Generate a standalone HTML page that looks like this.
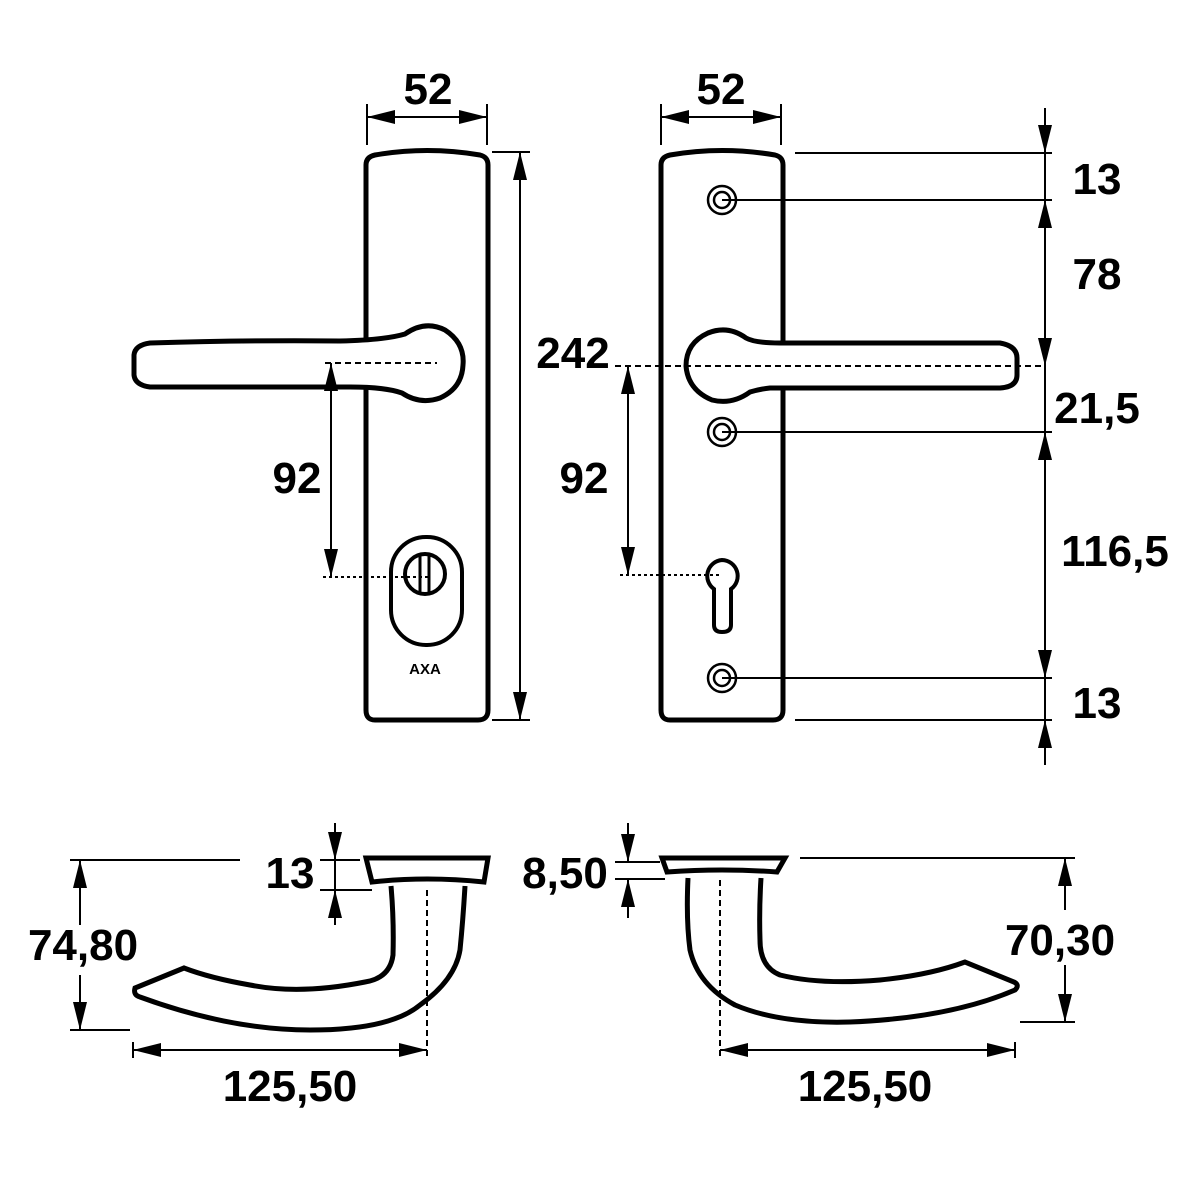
<!DOCTYPE html>
<html><head><meta charset="utf-8"><style>
html,body{margin:0;padding:0;background:#fff}
svg{display:block}
text{font-family:"Liberation Sans",Arial,sans-serif;font-weight:bold;font-size:44px;fill:#000}
</style></head><body>
<svg width="1181" height="1181" viewBox="0 0 1181 1181" xmlns="http://www.w3.org/2000/svg">
<defs>
<marker id="a" viewBox="0 0 28 14" refX="28" refY="7" markerWidth="28" markerHeight="14" markerUnits="userSpaceOnUse" orient="auto-start-reverse">
<path d="M0,0 L28,7 L0,14 Z" fill="#000"/></marker>
</defs>
<g fill="none" stroke="#000">
<!-- LEFT PLATE -->
<path d="M375,155 Q427,146 480,155 Q488,157 488,165 L488,710 Q488,720 478,720 L375,720 Q366,720 366,710 L366,165 Q366,157 375,155 Z" stroke-width="5" fill="#fff"/>
<!-- left handle -->
<path d="M150,343 Q250,340 340,341 Q385,340 405,334 Q425,320 445,330 Q465,343 463,365 Q462,388 440,398 Q420,405 402,393 Q385,387 350,387 L150,387 Q135,385 134,375 L134,355 Q135,345 150,343 Z" stroke-width="5" fill="#fff"/>
<line x1="325" y1="363" x2="437" y2="363" stroke-width="2" stroke-dasharray="6,4"/>
<line x1="331" y1="363" x2="331" y2="577" stroke-width="2" marker-start="url(#a)" marker-end="url(#a)"/>
<line x1="323" y1="577" x2="428" y2="577" stroke-width="2" stroke-dasharray="3,3"/>
<rect x="391" y="537" width="71" height="108" rx="35" stroke-width="4"/>
<circle cx="425" cy="574" r="20" stroke-width="4"/>
<line x1="420" y1="553" x2="420" y2="595" stroke-width="3"/>
<line x1="429" y1="553" x2="429" y2="595" stroke-width="3"/>
<!-- 242 -->
<line x1="492" y1="152" x2="530" y2="152" stroke-width="2"/>
<line x1="492" y1="720" x2="530" y2="720" stroke-width="2"/>
<line x1="520" y1="152" x2="520" y2="720" stroke-width="2" marker-start="url(#a)" marker-end="url(#a)"/>
<!-- 52 left -->
<line x1="367" y1="104" x2="367" y2="145" stroke-width="2"/>
<line x1="487" y1="104" x2="487" y2="145" stroke-width="2"/>
<line x1="367" y1="117" x2="487" y2="117" stroke-width="2" marker-start="url(#a)" marker-end="url(#a)"/>
<!-- 52 right -->
<line x1="661" y1="104" x2="661" y2="145" stroke-width="2"/>
<line x1="781" y1="104" x2="781" y2="145" stroke-width="2"/>
<line x1="661" y1="117" x2="781" y2="117" stroke-width="2" marker-start="url(#a)" marker-end="url(#a)"/>
<!-- RIGHT PLATE -->
<path d="M670,155 Q722,146 775,155 Q783,157 783,165 L783,710 Q783,720 773,720 L670,720 Q661,720 661,710 L661,165 Q661,157 670,155 Z" stroke-width="5" fill="#fff"/>
<g stroke-width="2.5">
<circle cx="722" cy="200" r="14"/><circle cx="722" cy="200" r="8"/>
<circle cx="722" cy="432" r="14"/><circle cx="722" cy="432" r="8"/>
<circle cx="722" cy="678" r="14"/><circle cx="722" cy="678" r="8"/>
</g>
<path d="M722,560 A16,16 0 0 1 731,589 L731,625 Q731,632 722,632 Q714,632 714,625 L714,589 A16,16 0 0 1 722,560 Z" stroke-width="4"/>
<path d="M1000,343 Q1017,346 1017,358 L1017,375 Q1017,387 1000,388 L770,388 Q760,389 750,392 Q732,405 712,400 Q688,390 686,366 Q686,343 708,333 Q728,325 746,338 Q755,343 780,343 Z" stroke-width="5" fill="#fff"/>
<line x1="615" y1="366" x2="1045" y2="366" stroke-width="2" stroke-dasharray="6,4"/>
<line x1="628" y1="366" x2="628" y2="575" stroke-width="2" marker-start="url(#a)" marker-end="url(#a)"/>
<line x1="620" y1="575" x2="720" y2="575" stroke-width="2" stroke-dasharray="3,3"/>
<!-- right dims -->
<g stroke-width="2">
<line x1="795" y1="153" x2="1052" y2="153"/>
<line x1="722" y1="200" x2="1052" y2="200"/>
<line x1="722" y1="432" x2="1052" y2="432"/>
<line x1="722" y1="678" x2="1052" y2="678"/>
<line x1="795" y1="720" x2="1052" y2="720"/>
<line x1="1045" y1="108" x2="1045" y2="153" marker-end="url(#a)"/>
<line x1="1045" y1="153" x2="1045" y2="200"/>
<line x1="1045" y1="200" x2="1045" y2="366" marker-start="url(#a)" marker-end="url(#a)"/>
<line x1="1045" y1="366" x2="1045" y2="432"/>
<line x1="1045" y1="432" x2="1045" y2="678" marker-start="url(#a)" marker-end="url(#a)"/>
<line x1="1045" y1="678" x2="1045" y2="720"/>
<line x1="1045" y1="765" x2="1045" y2="720" marker-end="url(#a)"/>
</g>
<!-- BOTTOM LEFT -->
<path d="M366,858 L488,858 L484,882 Q427,876 372,882 Z" stroke-width="5" fill="#fff"/>
<path d="M391,886 Q394,920 393,955 Q390,978 365,982 Q300,995 250,985 Q210,978 184,968 L135,988 Q133,995 140,997 Q230,1030 310,1030 Q390,1030 420,1005 Q455,980 460,950 Q463,920 465,886" stroke-width="5" fill="#fff"/>
<g stroke-width="2">
<line x1="70" y1="860" x2="240" y2="860"/>
<line x1="70" y1="1030" x2="130" y2="1030"/>
<line x1="80" y1="860" x2="80" y2="925" marker-start="url(#a)"/>
<line x1="80" y1="975" x2="80" y2="1030" marker-end="url(#a)"/>
<line x1="320" y1="860" x2="360" y2="860"/>
<line x1="320" y1="890" x2="372" y2="890"/>
<line x1="335" y1="823" x2="335" y2="860" marker-end="url(#a)"/>
<line x1="335" y1="925" x2="335" y2="890" marker-end="url(#a)"/>
<line x1="335" y1="860" x2="335" y2="890"/>
<line x1="427" y1="890" x2="427" y2="1058" stroke-dasharray="6,4"/>
<line x1="133" y1="1042" x2="133" y2="1058"/>
<line x1="133" y1="1050" x2="427" y2="1050" marker-start="url(#a)" marker-end="url(#a)"/>
</g>
<!-- BOTTOM RIGHT -->
<path d="M662,858 L785,858 L777,872 Q722,868 667,872 Z" stroke-width="5" fill="#fff"/>
<path d="M688,878 Q686,920 690,950 Q698,985 735,1005 Q780,1024 850,1022 Q950,1018 1015,990 Q1020,985 1014,982 L965,962 Q930,975 880,980 Q820,985 780,975 Q760,967 760,940 Q759,910 761,878" stroke-width="5" fill="#fff"/>
<g stroke-width="2">
<line x1="800" y1="858" x2="1075" y2="858"/>
<line x1="1020" y1="1022" x2="1075" y2="1022"/>
<line x1="1065" y1="858" x2="1065" y2="910" marker-start="url(#a)"/>
<line x1="1065" y1="965" x2="1065" y2="1022" marker-end="url(#a)"/>
<line x1="615" y1="862" x2="660" y2="862"/>
<line x1="615" y1="879" x2="665" y2="879"/>
<line x1="628" y1="823" x2="628" y2="862" marker-end="url(#a)"/>
<line x1="628" y1="918" x2="628" y2="879" marker-end="url(#a)"/>
<line x1="720" y1="880" x2="720" y2="1058" stroke-dasharray="6,4"/>
<line x1="1015" y1="1042" x2="1015" y2="1058"/>
<line x1="720" y1="1050" x2="1015" y2="1050" marker-start="url(#a)" marker-end="url(#a)"/>
</g>
</g>
<text x="428" y="104" text-anchor="middle">52</text>
<text x="721" y="104" text-anchor="middle">52</text>
<text x="573" y="368" text-anchor="middle">242</text>
<text x="297" y="493" text-anchor="middle">92</text>
<text x="584" y="493" text-anchor="middle">92</text>
<text x="425" y="674" text-anchor="middle" style="font-size:15px">AXA</text>
<text x="1097" y="194" text-anchor="middle">13</text>
<text x="1097" y="289" text-anchor="middle">78</text>
<text x="1097" y="423" text-anchor="middle">21,5</text>
<text x="1115" y="566" text-anchor="middle">116,5</text>
<text x="1097" y="718" text-anchor="middle">13</text>
<text x="290" y="888" text-anchor="middle">13</text>
<text x="565" y="888" text-anchor="middle">8,50</text>
<text x="83" y="960" text-anchor="middle">74,80</text>
<text x="1060" y="955" text-anchor="middle">70,30</text>
<text x="290" y="1101" text-anchor="middle">125,50</text>
<text x="865" y="1101" text-anchor="middle">125,50</text>
</svg>
</body></html>
